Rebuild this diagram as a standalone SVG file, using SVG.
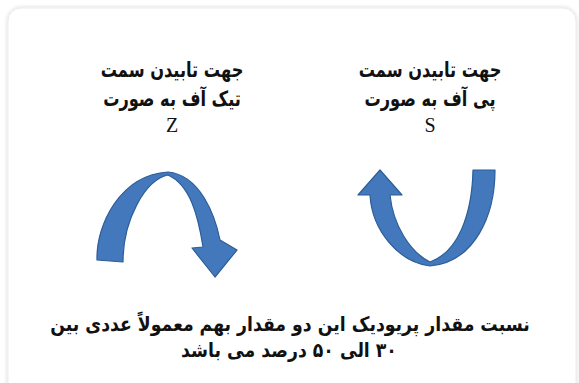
<svg xmlns="http://www.w3.org/2000/svg" width="579" height="383" viewBox="0 0 579 383">
<defs>
<filter id="sh" x="-5%" y="-5%" width="110%" height="110%">
<feGaussianBlur in="SourceAlpha" stdDeviation="2"/>
<feOffset dx="0" dy="0"/>
<feComponentTransfer><feFuncA type="linear" slope="0.18"/></feComponentTransfer>
<feMerge><feMergeNode/><feMergeNode in="SourceGraphic"/></feMerge>
</filter>
</defs>
<style>
.fa{font-family:"DejaVu Sans",sans-serif;font-weight:bold;fill:#111;text-anchor:middle}
.lt{font-family:"Liberation Serif",serif;fill:#111;text-anchor:middle}
.arr{fill:#4379bc;stroke:#2c5d96;stroke-width:1.2;stroke-linejoin:round}
</style>
<rect x="0" y="0" width="579" height="383" fill="#ffffff"/>
<rect x="8" y="8" width="568" height="400" rx="13" fill="#ffffff" stroke="#ececec" stroke-width="1" filter="url(#sh)"/>

<g id="label-z">
<text class="fa" x="0" y="0" font-size="16.2" direction="rtl" transform="translate(172,77) scale(1,1.3)">جهت تابیدن سمت</text>
<text class="fa" x="0" y="0" font-size="16.2" direction="rtl" transform="translate(172,106) scale(1,1.3)">تیک آف به صورت</text>
<text class="lt" x="172" y="132" font-size="20">Z</text>
</g>
<g id="label-s">
<text class="fa" x="0" y="0" font-size="16.2" direction="rtl" transform="translate(430,77) scale(1,1.3)">جهت تابیدن سمت</text>
<text class="fa" x="0" y="0" font-size="16.2" direction="rtl" transform="translate(430,106) scale(1,1.3)">پی آف به صورت</text>
<text class="lt" x="430" y="132" font-size="20">S</text>
</g>

<g id="arrow-z">
<path class="arr" d="M97,260 C96,225 120,175 168,172 C200,175 215,215 220,240 L237,250 L215,277 L192,248 L203,247 C198,215 190,185 168,175 C145,180 123,220 123,262 Z"/>
</g>
<g id="arrow-s">
<path class="arr" d="M370,195 C372,230 398,262 430,266 C475,262 495,215 495,170 L473,170 C472,215 458,252 430,262 C410,252 393,225 390,195 L402,195 L380,170 L358,195 Z"/>
</g>

<g id="caption">
<text class="fa" x="0" y="0" font-size="17.3" direction="rtl" transform="translate(290,331) scale(1,1.15)">نسبت مقدار پریودیک این دو مقدار بهم معمولاً عددی بین</text>
<text class="fa" x="0" y="0" font-size="17.3" direction="rtl" transform="translate(289,357) scale(1,1.15)">۳۰ الی ۵۰ درصد می باشد</text>
</g>
</svg>
